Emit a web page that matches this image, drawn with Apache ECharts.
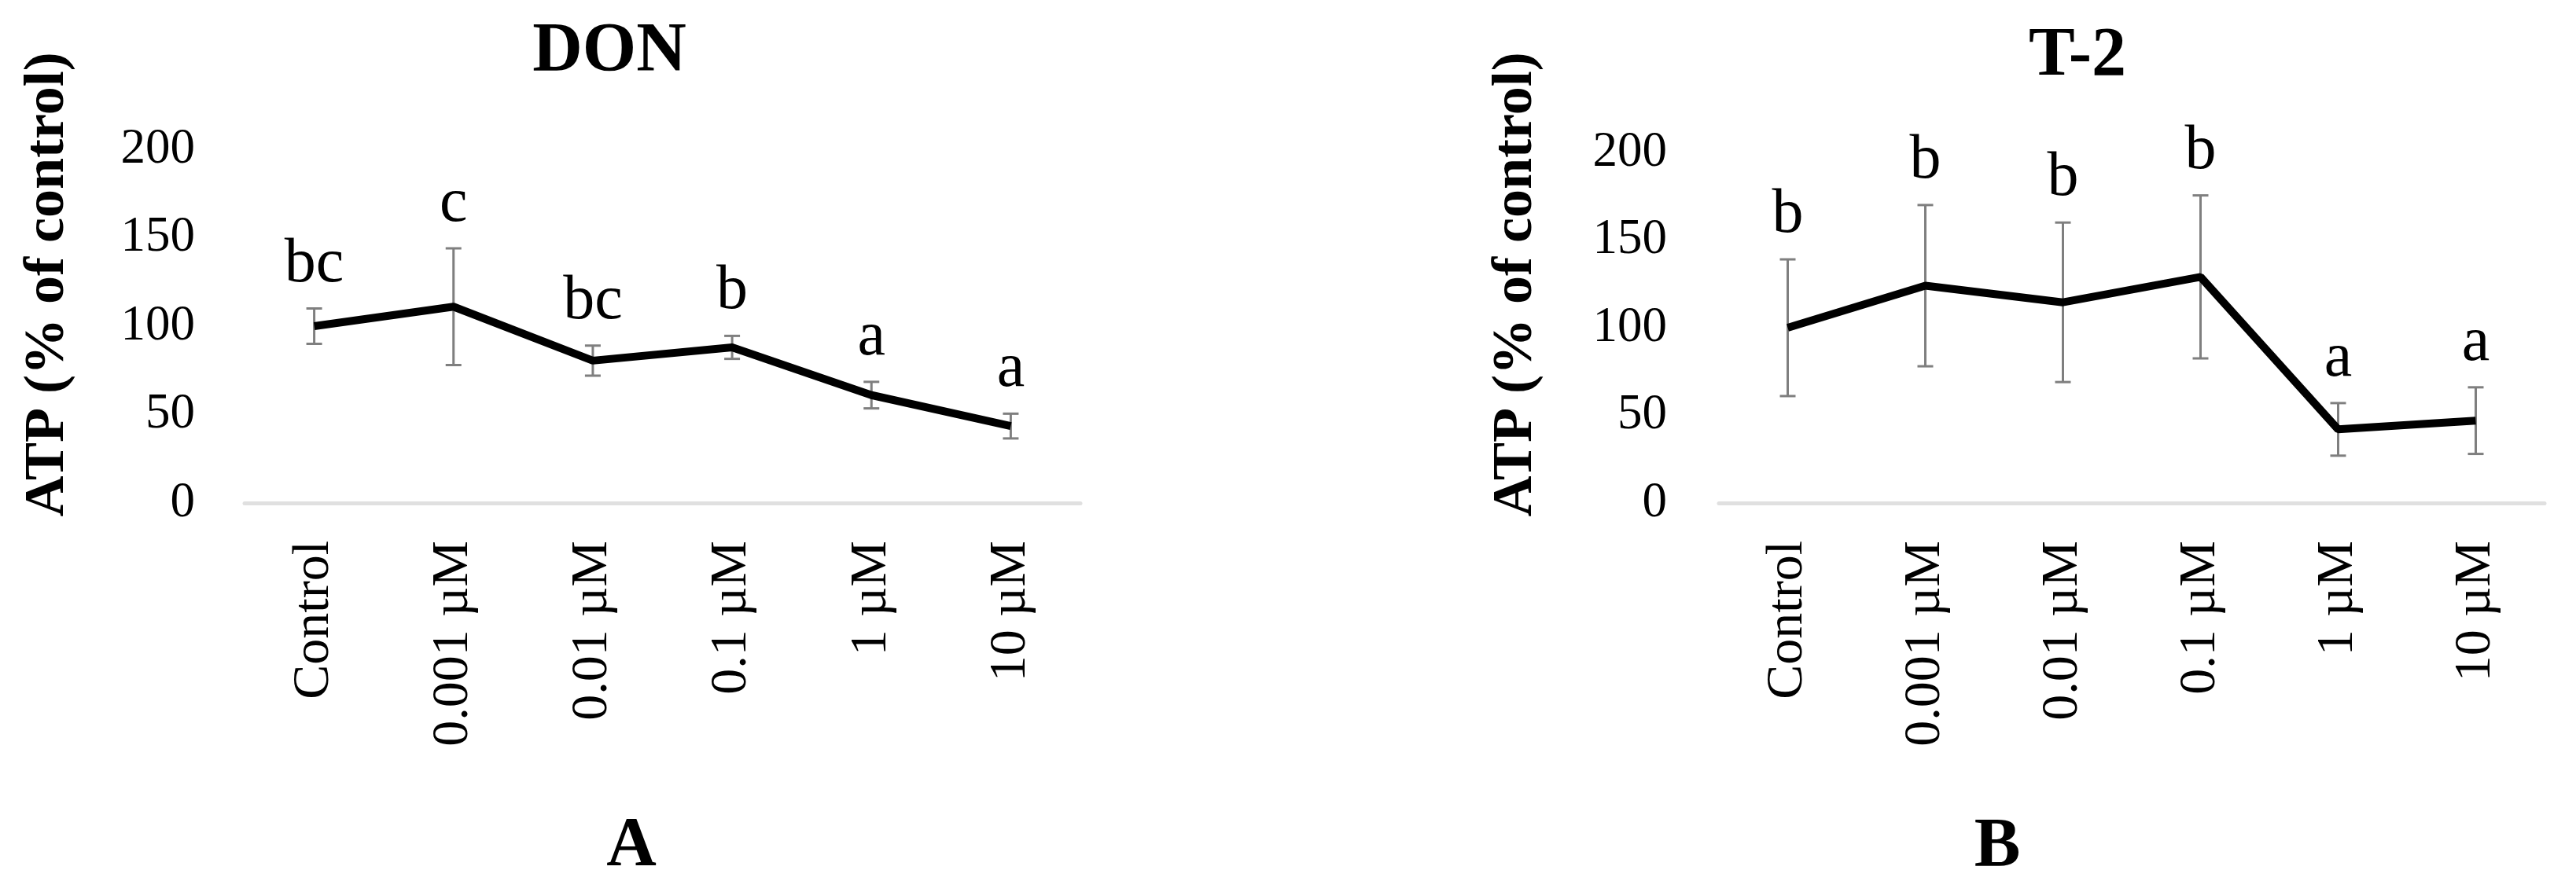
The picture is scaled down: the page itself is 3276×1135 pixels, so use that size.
<!DOCTYPE html>
<html>
<head>
<meta charset="utf-8">
<title>ATP – DON / T-2</title>
<script src="https://cdn.jsdelivr.net/npm/echarts@6/dist/echarts.min.js"></script>
<style>
  html, body { margin: 0; padding: 0; background: #fff; }
  #chart { width: 3276px; height: 1135px; }
</style>
</head>
<body>
<div id="chart"></div>
<script>
// data
var categories = ['Control', '0.001 µM', '0.01 µM', '0.1 µM', '1 µM', '10 µM'];
var yTicks = [0, 50, 100, 150, 200];

var donMean = [100, 111, 80.5, 88, 61, 43.5];
var donErr = [10, 33, 8.5, 6.5, 7.5, 7];
var donLetters = ['bc', 'c', 'bc', 'b', 'a', 'a'];

var t2Mean = [100, 124, 114.5, 129, 42, 47];
var t2Err = [39, 46, 45.5, 46.5, 15, 19];
var t2Letters = ['b', 'b', 'b', 'b', 'a', 'a'];

var FONT = '"Liberation Serif", "DejaVu Serif", serif';

var chart = echarts.init(document.getElementById('chart'));

// error bar + significance letter for each point
function makeErrorBars(letters) {
  return function (params, api) {
    var i = api.value(0);
    var mean = api.value(1);
    var err = api.value(2);
    var top = api.coord([i, mean + err]);
    var bot = api.coord([i, mean - err]);
    var half = 10;
    var st = { stroke: '#7f7f7f', lineWidth: 3 };
    return {
      type: 'group',
      children: [
        { type: 'line', shape: { x1: top[0], y1: top[1], x2: bot[0], y2: bot[1] }, style: st },
        { type: 'line', shape: { x1: top[0] - half, y1: top[1], x2: top[0] + half, y2: top[1] }, style: st },
        { type: 'line', shape: { x1: bot[0] - half, y1: bot[1], x2: bot[0] + half, y2: bot[1] }, style: st },
        {
          type: 'text',
          x: top[0],
          y: top[1] - 16,
          style: {
            text: letters[params.dataIndex],
            fill: '#000',
            font: '80px ' + FONT,
            align: 'center', textAlign: 'center',
            verticalAlign: 'bottom', textVerticalAlign: 'bottom'
          }
        }
      ]
    };
  };
}

function xAxisFor(gridIndex) {
  return {
    type: 'category',
    gridIndex: gridIndex,
    data: categories,
    boundaryGap: true,
    axisLine: { show: true, lineStyle: { color: '#e0e0e0', width: 5 } },
    axisTick: { show: false },
    axisLabel: {
      interval: 0,
      rotate: 90,
      margin: 48,
      color: '#000',
      fontSize: 66,
      fontFamily: FONT
    },
    splitLine: { show: false }
  };
}

function yAxisFor(gridIndex, margin) {
  return {
    type: 'value',
    gridIndex: gridIndex,
    min: yTicks[0],
    max: yTicks[yTicks.length - 1],
    interval: yTicks[1] - yTicks[0],
    axisLine: { show: false },
    axisTick: { show: false },
    splitLine: { show: false },
    axisLabel: {
      margin: margin,
      color: '#000',
      fontSize: 63,
      fontFamily: FONT
    }
  };
}

function textEl(x, y, text, font, rotation) {
  return {
    type: 'text',
    x: x,
    y: y,
    rotation: rotation || 0,
    style: {
      text: text,
      fill: '#000',
      font: font,
      align: 'center', textAlign: 'center',
      verticalAlign: 'middle', textVerticalAlign: 'middle'
    }
  };
}

chart.setOption({
  animation: false,
  backgroundColor: '#fff',
  grid: [
    { left: 311, top: 190, width: 1063, height: 450 },
    { left: 2186, top: 194, width: 1050, height: 446 }
  ],
  xAxis: [xAxisFor(0), xAxisFor(1)],
  yAxis: [yAxisFor(0, 63), yAxisFor(1, 66)],
  graphic: [
    textEl(775, 66, 'DON', 'bold 88px ' + FONT),
    textEl(2642, 72, 'T-2', 'bold 88px ' + FONT),
    textEl(803, 1077, 'A', 'bold 88px ' + FONT),
    textEl(2540, 1078, 'B', 'bold 88px ' + FONT),
    textEl(61, 362, 'ATP (% of control)', 'bold 72px ' + FONT, Math.PI / 2),
    textEl(1928, 362, 'ATP (% of control)', 'bold 72px ' + FONT, Math.PI / 2)
  ],
  series: [
    {
      type: 'custom',
      xAxisIndex: 0,
      yAxisIndex: 0,
      renderItem: makeErrorBars(donLetters),
      data: donMean.map(function (m, i) { return [i, m, donErr[i]]; }),
      z: 2
    },
    {
      type: 'line',
      xAxisIndex: 0,
      yAxisIndex: 0,
      data: donMean,
      symbol: 'none',
      lineStyle: { color: '#000', width: 10 },
      z: 3
    },
    {
      type: 'custom',
      xAxisIndex: 1,
      yAxisIndex: 1,
      renderItem: makeErrorBars(t2Letters),
      data: t2Mean.map(function (m, i) { return [i, m, t2Err[i]]; }),
      z: 2
    },
    {
      type: 'line',
      xAxisIndex: 1,
      yAxisIndex: 1,
      data: t2Mean,
      symbol: 'none',
      lineStyle: { color: '#000', width: 10 },
      z: 3
    }
  ]
});
</script>
</body>
</html>
